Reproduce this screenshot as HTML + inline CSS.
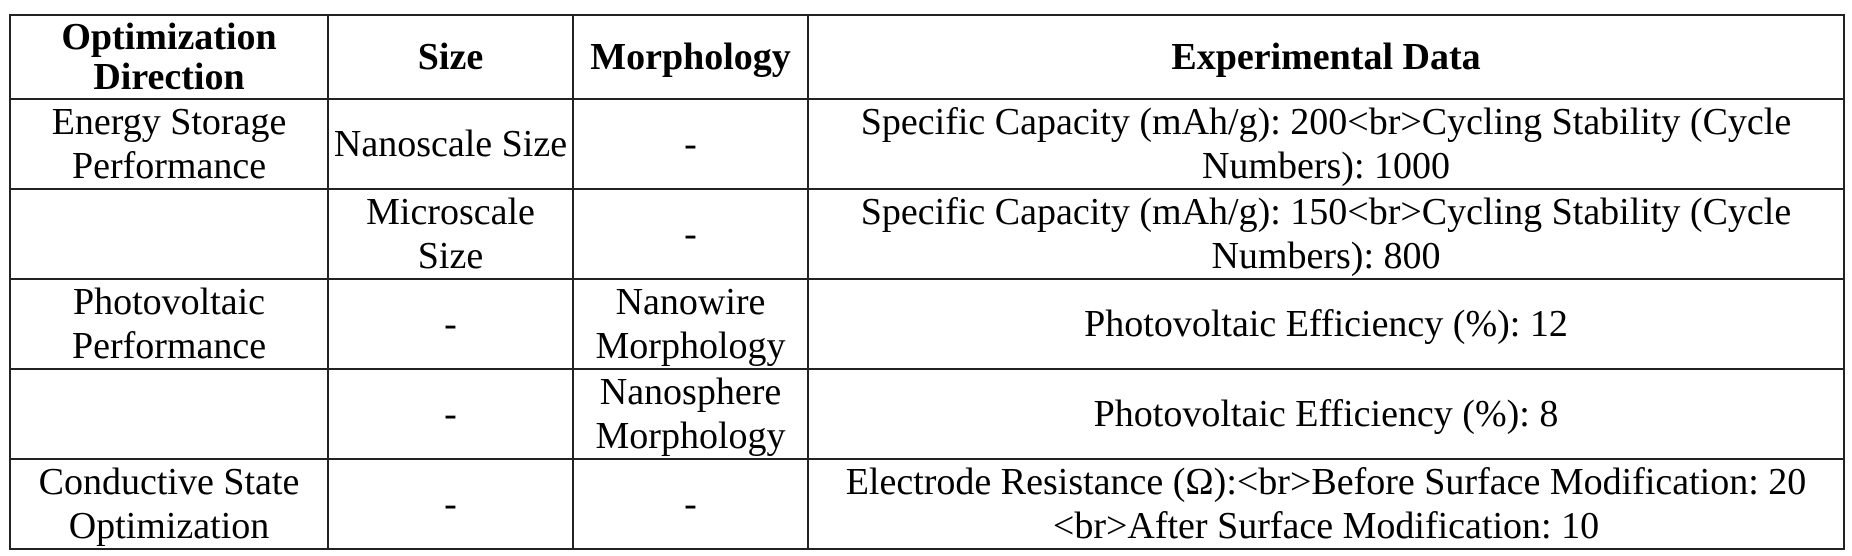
<!DOCTYPE html>
<html><head><meta charset="utf-8"><style>
html,body{margin:0;padding:0;background:#fff;width:1852px;height:556px;overflow:hidden}
table{position:absolute;left:9px;top:14px;border-collapse:collapse;table-layout:fixed;width:1834px;font-family:"Liberation Serif",serif;font-size:38px;line-height:44px;color:#000}
td,th{border:2px solid #222;text-align:center;vertical-align:middle;padding:0 1px;overflow:hidden;white-space:nowrap}
th{font-weight:bold;line-height:40px}
</style></head><body>
<table>
<colgroup><col style="width:318px"><col style="width:245px"><col style="width:235px"><col style="width:1036px"></colgroup>
<tr style="height:84px"><th>Optimization<br>Direction</th><th>Size</th><th>Morphology</th><th>Experimental Data</th></tr>
<tr style="height:88px"><td>Energy Storage<br>Performance</td><td>Nanoscale Size</td><td>-</td><td>Specific Capacity (mAh/g): 200&lt;br&gt;Cycling Stability (Cycle<br>Numbers): 1000</td></tr>
<tr style="height:88px"><td></td><td>Microscale<br>Size</td><td>-</td><td>Specific Capacity (mAh/g): 150&lt;br&gt;Cycling Stability (Cycle<br>Numbers): 800</td></tr>
<tr style="height:88px"><td>Photovoltaic<br>Performance</td><td>-</td><td>Nanowire<br>Morphology</td><td>Photovoltaic Efficiency (%): 12</td></tr>
<tr style="height:88px"><td></td><td>-</td><td>Nanosphere<br>Morphology</td><td>Photovoltaic Efficiency (%): 8</td></tr>
<tr style="height:88px"><td>Conductive State<br>Optimization</td><td>-</td><td>-</td><td>Electrode Resistance (Ω):&lt;br&gt;Before Surface Modification: 20<br>&lt;br&gt;After Surface Modification: 10</td></tr>
</table>
</body></html>
